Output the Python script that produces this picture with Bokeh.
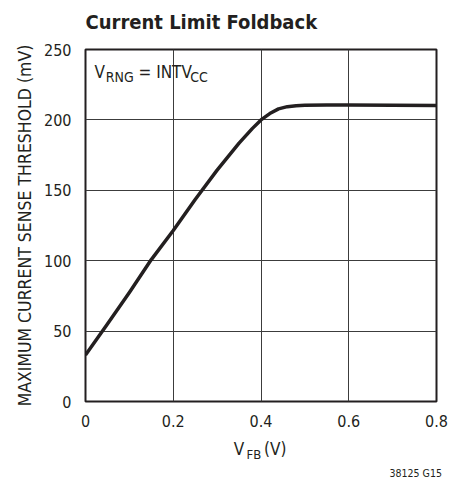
from bokeh.plotting import figure
from bokeh.models import Label, FixedTicker
from bokeh.embed import file_html
from bokeh.resources import INLINE

# Current limit foldback: max current sense threshold vs feedback voltage
vfb = [0.00, 0.05, 0.10, 0.15, 0.20, 0.25, 0.30, 0.35, 0.38, 0.40,
       0.42, 0.44, 0.46, 0.48, 0.50, 0.55, 0.60, 0.70, 0.80]
threshold_mv = [33.0, 55.0, 77.5, 100.8, 121.4, 143.5, 164.3, 183.5, 193.8, 200.0,
                204.5, 207.8, 209.4, 210.1, 210.4, 210.5, 210.5, 210.4, 210.3]

x_ticks = [0, 0.2, 0.4, 0.6, 0.8]
x_tick_labels = ["0", "0.2", "0.4", "0.6", "0.8"]
y_ticks = [0, 50, 100, 150, 200, 250]

TITLE = "Current Limit Foldback"
INK = "#231f20"
FONT = "DejaVu Sans Condensed"

p = figure(width=466, height=491, x_range=(0, 0.8), y_range=(0, 250),
           output_backend="svg", toolbar_location=None,
           min_border_left=85, min_border_right=30,
           min_border_top=49, min_border_bottom=90)

p.outline_line_color = INK
p.outline_line_width = 2
p.background_fill_color = "white"
p.border_fill_color = "white"

for ax in (p.xaxis[0], p.yaxis[0]):
    ax.axis_line_color = None
    ax.major_tick_line_color = None
    ax.minor_tick_line_color = None
    ax.major_label_text_font = FONT
    ax.major_label_text_font_size = "16px"
    ax.major_label_text_color = INK

p.xaxis.ticker = FixedTicker(ticks=x_ticks)
p.xaxis.major_label_overrides = {t: s for t, s in zip(x_ticks, x_tick_labels)}
p.xaxis.major_label_standoff = 7
p.yaxis.ticker = FixedTicker(ticks=y_ticks)
p.yaxis.major_label_standoff = 8

p.yaxis.axis_label = "MAXIMUM CURRENT SENSE THRESHOLD (mV)"
p.yaxis.axis_label_text_font = FONT
p.yaxis.axis_label_text_font_size = "17.5px"
p.yaxis.axis_label_text_font_style = "normal"
p.yaxis.axis_label_text_color = INK
p.yaxis.axis_label_standoff = 6

p.xgrid.ticker = FixedTicker(ticks=[0.2, 0.4, 0.6])
p.ygrid.ticker = FixedTicker(ticks=[50, 100, 150, 200])
p.grid.grid_line_color = "#3c3c3c"
p.grid.grid_line_width = 1

p.line(vfb, threshold_mv, line_color=INK, line_width=3.5, line_join="round")


def text_label(x, y, text, size, units, style="normal"):
    return Label(x=x, y=y, x_units=units, y_units=units,
                 text=text, text_font=FONT, text_font_size=size,
                 text_font_style=style, text_color=INK,
                 text_baseline="alphabetic")


# chart title, anchored in data space above the frame
p.add_layout(text_label(0.0, 269.2, TITLE, "20px", "data", "bold"), "above")

# condition note inside the plot (screen px from the frame's lower-left): V_RNG = INTV_CC
for lbl in [text_label(9, 329.3, "V", "17px", "screen"),
            text_label(20.3, 324.2, "RNG", "14px", "screen"),
            text_label(53, 329.3, "= INTV", "17px", "screen"),
            text_label(104.7, 324.2, "CC", "14px", "screen")]:
    p.add_layout(lbl)

# x axis title V_FB (V) and the figure code, anchored in data space below the axis
p.add_layout(text_label(0.338, -34.0, "V", "17px", "data"), "below")
p.add_layout(text_label(0.367, -37.9, "FB", "13px", "data"), "below")
p.add_layout(text_label(0.407, -34.0, "(V)", "17px", "data"), "right")
p.add_layout(text_label(0.693, -51.0, "38125 G15", "10.5px", "data"), "below")

open("out.html", "w").write(file_html(p, INLINE))
